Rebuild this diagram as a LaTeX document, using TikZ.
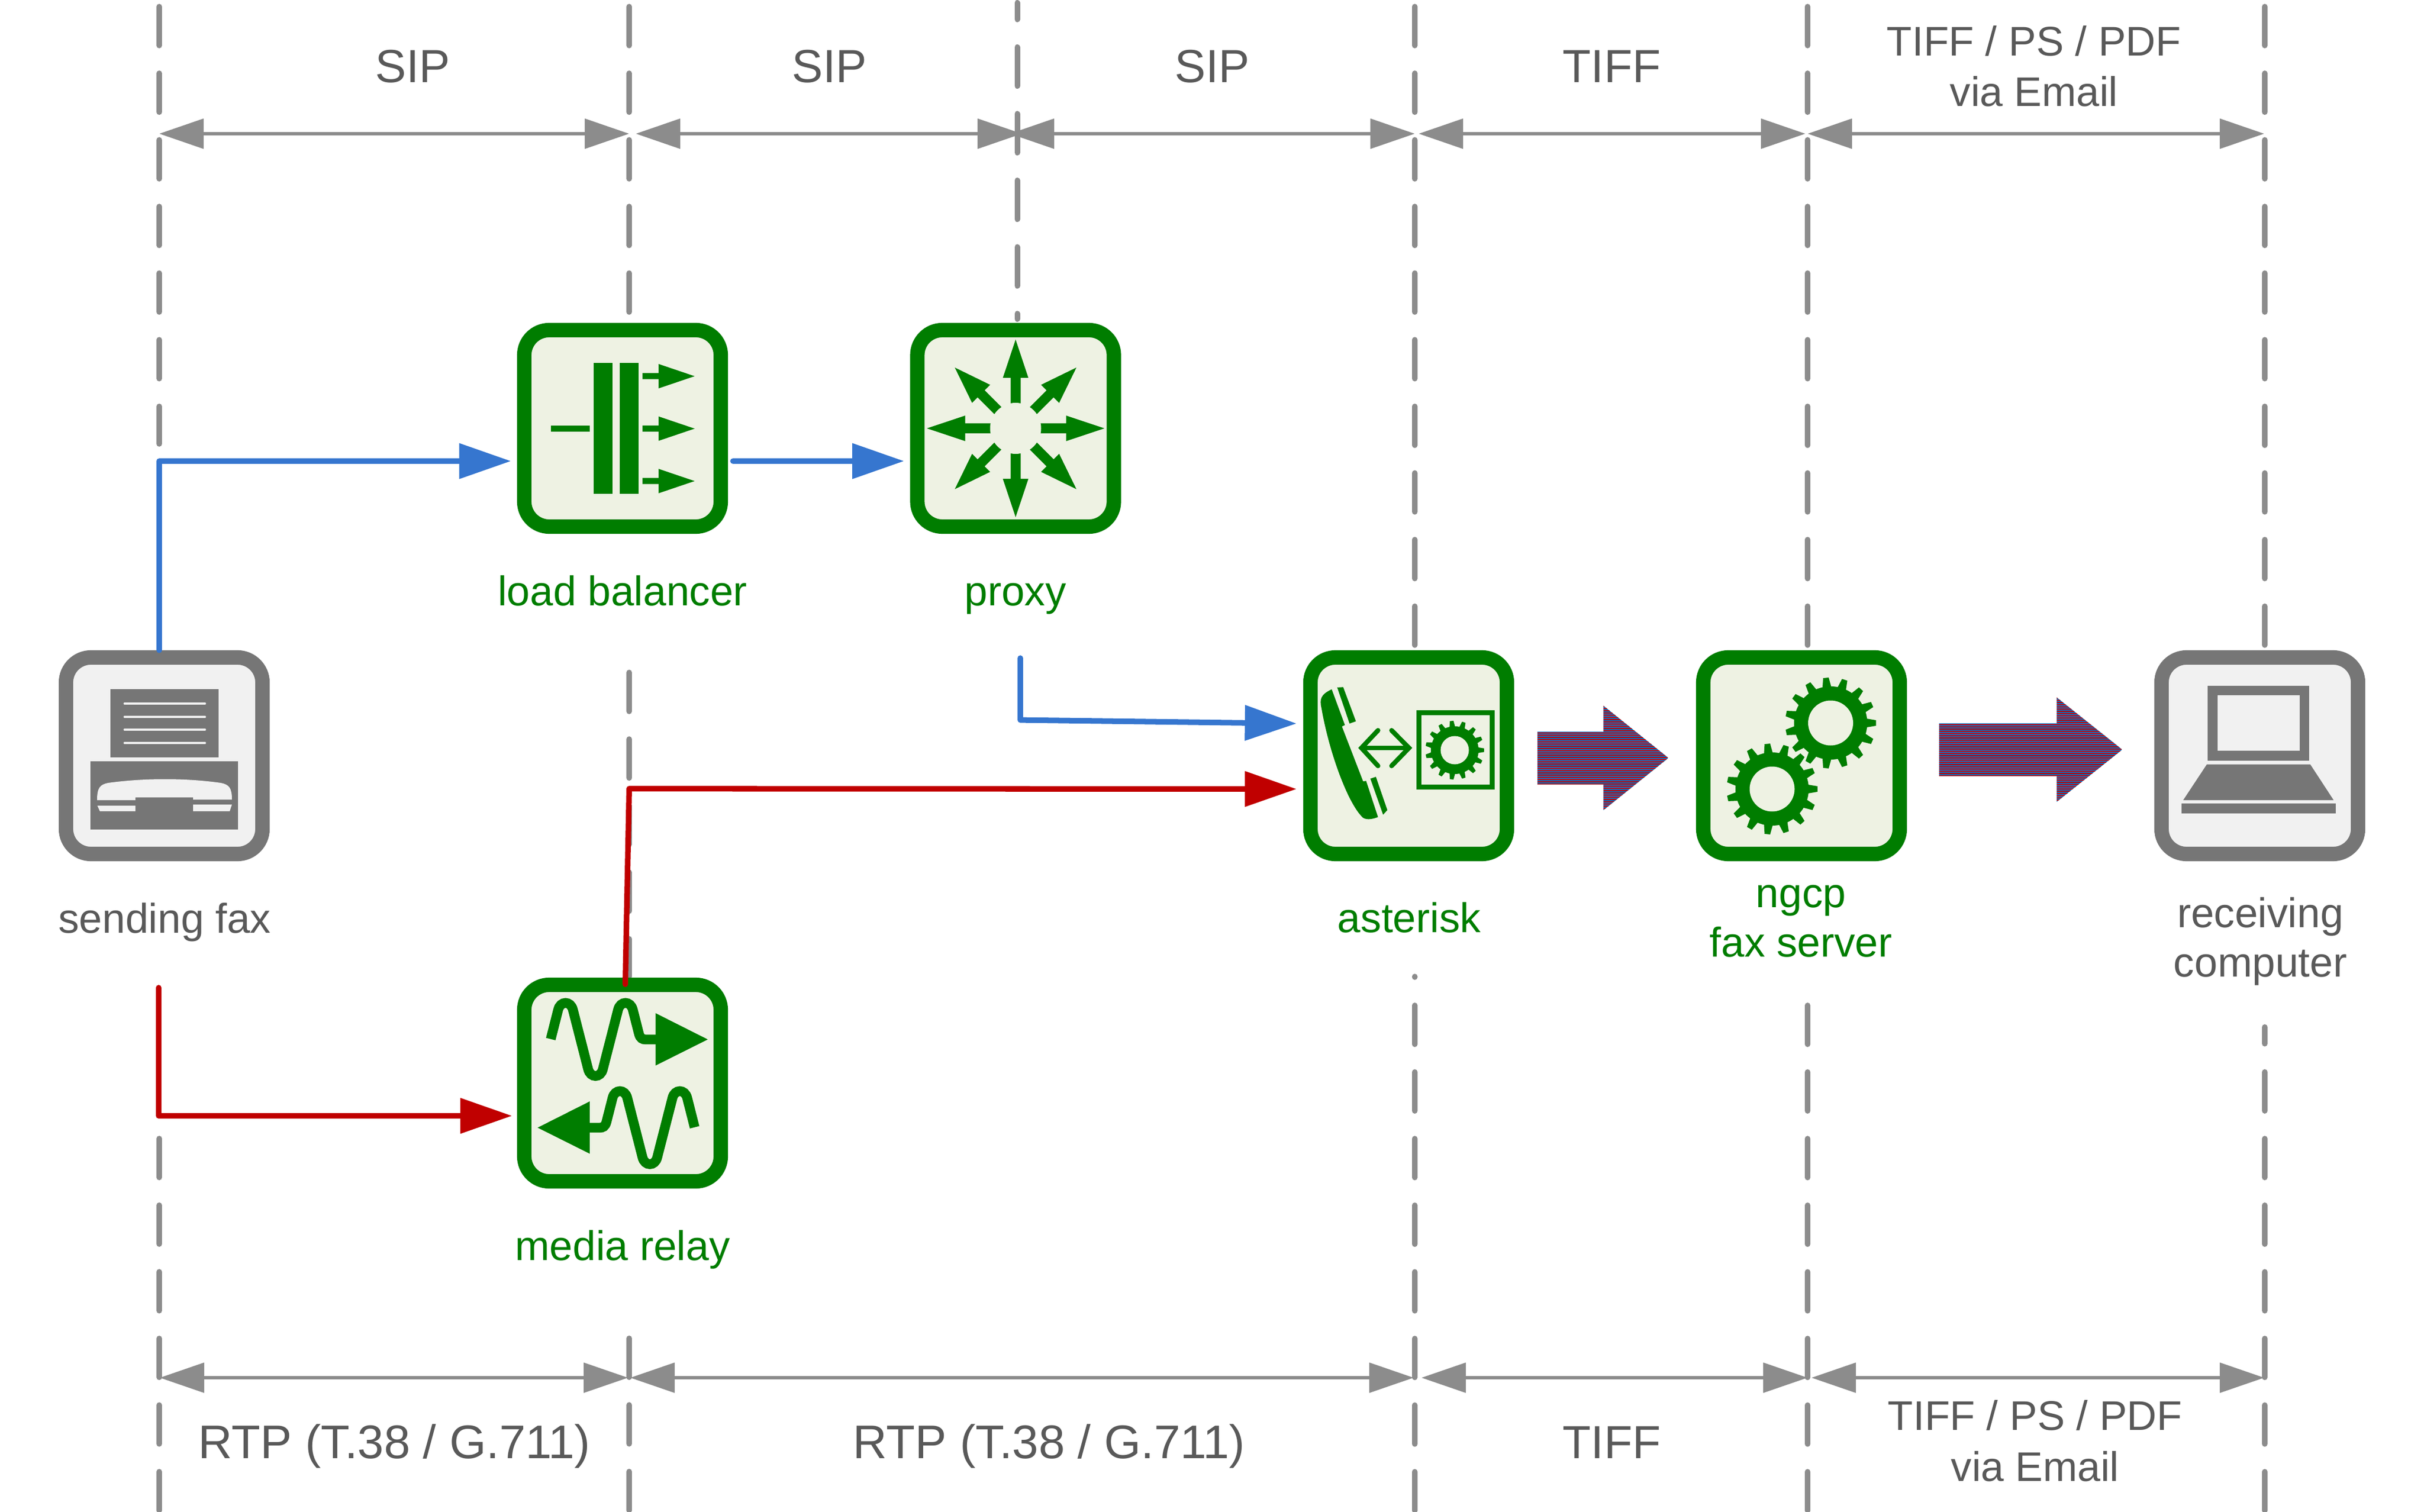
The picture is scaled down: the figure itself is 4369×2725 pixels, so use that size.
\documentclass[tikz,border=0pt]{standalone}
\usepackage{fontspec}
\setmainfont{Liberation Sans}
\usetikzlibrary{arrows.meta,calc}
\definecolor{boxgreen}{HTML}{007D00}
\definecolor{boxfill}{HTML}{EEF2E3}
\definecolor{hostgrey}{HTML}{767676}
\definecolor{hostfill}{HTML}{F1F1F1}
\definecolor{guidegrey}{HTML}{8C8C8C}
\definecolor{textgrey}{HTML}{595959}
\definecolor{sigblue}{HTML}{3676CF}
\definecolor{rtpred}{HTML}{C00000}
\definecolor{stripeblue}{HTML}{0070C0}
\tikzset{
  netbox/.style={rectangle,rounded corners=0.45cm,minimum size=3.54cm,line width=0.26cm,draw=boxgreen,fill=boxfill,inner sep=0pt},
  hostbox/.style={netbox,draw=hostgrey,fill=hostfill},
  guideline/.style={draw=guidegrey,line width=2.85pt,line cap=round,dash pattern=on 0.7cm off 0.5cm},
  guidestub/.style={draw=guidegrey,line width=2.85pt,line cap=round},
  dimline/.style={draw=guidegrey,line width=1.9pt,{Triangle[length=22.8pt,width=15.1pt]}-{Triangle[length=22.8pt,width=15.1pt]}},
  sigline/.style={draw=sigblue,line width=2.85pt,line cap=round,line join=round,-{Triangle[length=26.5pt,width=17.6pt]}},
  rtpline/.style={sigline,draw=rtpred},
  proto/.style={font=\fontsize{23.8}{25.9}\selectfont,text=textgrey,inner sep=0pt,anchor=base,align=center},
  rtplabel/.style={proto,font=\fontsize{24.2}{25.9}\selectfont},
  maillabel/.style={proto,font=\fontsize{21.2}{25.9}\selectfont},
  hostlabel/.style={font=\fontsize{21.3}{25.2}\selectfont,text=textgrey,inner sep=0pt,anchor=base,align=center},
  netlabel/.style={hostlabel,text=boxgreen}
}
% gear: x, y, outer radius, root radius, hole radius
\newcommand{\gearicon}[5]{
  \begin{scope}[shift={(#1,#2)}]
    \fill[boxgreen] (0,0) circle[radius=#4];
    \foreach \ang in {0,24,...,336}
      \fill[boxgreen] (\ang-7:#4-1) -- (\ang-3.5:#3) -- (\ang+3.5:#3) -- (\ang+7:#4-1) -- cycle;
    \fill[boxfill] (0,0) circle[radius=#5];
  \end{scope}
}
% fat arrow: tail x, head base x, tip x, middle y
\newcommand{\stripedarrow}[4]{
  \begin{scope}
    \clip (#1,#4-47.5) -- (#2,#4-47.5) -- (#2,#4-94) -- (#3,#4) -- (#2,#4+94) -- (#2,#4+47.5) -- (#1,#4+47.5) -- cycle;
    \fill[stripeblue] (#1,#4-94) rectangle (#3,#4+94);
    \foreach \k in {0,...,46}
      \fill[rtpred] (#1,#4-94+\k*4) rectangle (#3,#4-94+\k*4+2);
  \end{scope}
}
% one wave of the relay icon, zoomed coordinates
\newcommand{\relaywave}{
  \draw[boxgreen,line width=5pt] (278,398) -- (318,240) .. controls (330,190) and (386,190) .. (398,240) -- (480,560) .. controls (492,610) and (548,610) .. (560,560) -- (642,240) .. controls (654,190) and (710,190) .. (722,240) -- (755,370) .. controls (762,395) and (775,400) .. (790,400) -- (846,400);
  \fill[boxgreen] (845,258) -- (1127,400) -- (845,541) -- cycle;
}
\begin{document}
\begin{tikzpicture}[x=0.01cm,y=-0.01cm]
\useasboundingbox (0,0) rectangle (4369,2725);
%guide lines
\foreach \xpos/\ya/\yb in {287/12/800,287/2052/2725,1134/12/565,1134/1212/1405,1134/1452/1650,1134/1692/1760,1134/2412/2725,1833.5/85/575,2550/12/1165,2550/1812/2725,3258/12/1165,3258/1812/2725,4082/12/1165,4082/1932/2725}
  \draw[guideline] (\xpos,\ya) -- (\xpos,\yb);
\draw[guidestub] (1833.5,5) -- (1833.5,35);
\draw[guidestub] (2550,1760) -- (2550,1761);
\draw[guidestub] (4082,1851) -- (4082,1881);
%upper and lower spans
\coordinate (ta) at (287,241);
\coordinate (tb) at (1134,241);
\coordinate (tc) at (1146,241);
\coordinate (td) at (1842,241);
\coordinate (te) at (1820,241);
\coordinate (tf) at (2550,241);
\coordinate (tg) at (2557,241);
\coordinate (th) at (3254,241);
\coordinate (ti) at (3258,241);
\coordinate (tj) at (4081,241);
\coordinate (ba) at (288,2483);
\coordinate (bb) at (1132,2483);
\coordinate (bc) at (1136,2483);
\coordinate (bd) at (2548,2483);
\coordinate (be) at (2562,2483);
\coordinate (bf) at (3258,2483);
\coordinate (bg) at (3265,2483);
\coordinate (bh) at (4081,2483);
\draw[dimline] (ta) -- (tb);
\draw[dimline] (tc) -- (td);
\draw[dimline] (te) -- (tf);
\draw[dimline] (tg) -- (th);
\draw[dimline] (ti) -- (tj);
\draw[dimline] (ba) -- (bb);
\draw[dimline] (bc) -- (bd);
\draw[dimline] (be) -- (bf);
\draw[dimline] (bg) -- (bh);
\node[proto] (siptop) at (744,149) {SIP};
\node[proto] (sipmid) at (1495,149) {SIP};
\node[proto] (sipend) at (2185,149) {SIP};
\node[proto] (tifftop) at (2905,149) {TIFF};
\node[maillabel] (mailtop) at (3666,192) {TIFF / PS / PDF\\via Email};
\node[rtplabel] (rtpleft) at (711,2628) {RTP (T.38 / G.711)};
\node[rtplabel] (rtpright) at (1891,2628) {RTP (T.38 / G.711)};
\node[proto] (tiffbot) at (2905,2628) {TIFF};
\node[maillabel] (mailbot) at (3668,2669) {TIFF / PS / PDF\\via Email};
%boxes
\node[hostbox] (fax) at (296,1362) {};
\node[netbox] (lb) at (1122,772) {};
\node[netbox] (proxy) at (1830.5,772) {};
\node[netbox] (asterisk) at (2539,1362) {};
\node[netbox] (ngcp) at (3247,1362) {};
\node[hostbox] (pc) at (4073,1362) {};
\node[netbox] (relay) at (1122,1952) {};
\node[hostlabel] (faxlabel) at (297,1681) {sending fax};
\node[netlabel] (lblabel) at (1122,1091) {load balancer};
\node[netlabel] (proxylabel) at (1830,1091) {proxy};
\node[netlabel] (asterisklabel) at (2540,1680) {asterisk};
\node[netlabel] (ngcplabel) at (3246,1724) {ngcp\\fax server};
\node[hostlabel] (pclabel) at (4074,1760) {receiving\\computer};
\node[netlabel] (relaylabel) at (1122,2271.5) {media relay};
%fax
\fill[hostgrey] (199,1242) rectangle (393.5,1365);
\foreach \ypos in {1268,1292,1315,1339}
  \draw[hostfill,line width=1.4pt,line cap=round] (225,\ypos) -- (369,\ypos);
\fill[hostgrey] (163,1372) rectangle (429,1495);
\fill[hostfill] (175,1442) .. controls (175,1420) and (180,1414) .. (195,1411) .. controls (260,1402) and (335,1402) .. (398,1411) .. controls (413,1414) and (418,1420) .. (418,1441) -- (348,1441) -- (348,1437) -- (244,1437) -- (244,1442) -- cycle;
\fill[hostfill] (175.5,1452) -- (244,1452) -- (244,1462) -- (180,1462) -- cycle;
\fill[hostfill] (348,1450) -- (418,1450) -- (414,1462) -- (348,1462) -- cycle;
%load balancer
\fill[boxgreen] (1070,654) rectangle (1104,890);
\fill[boxgreen] (1117,654) rectangle (1151,890);
\fill[boxgreen] (992.5,767) rectangle (1063,778);
\foreach \ypos in {678,772.5,867}
  \fill[boxgreen] (1158,\ypos-5.5) -- (1187,\ypos-5.5) -- (1187,\ypos-22) -- (1252,\ypos) -- (1187,\ypos+22) -- (1187,\ypos+5.5) -- (1158,\ypos+5.5) -- cycle;
%proxy
\foreach \ang in {0,90,180,270}
  \fill[boxgreen,shift={(1830.5,772)},rotate=\ang] (30,-9) -- (91,-9) -- (91,-23) -- (160,0) -- (91,23) -- (91,9) -- (30,9) -- cycle;
\foreach \ang in {45,135,225,315}
  \fill[boxgreen,shift={(1830.5,772)},rotate=\ang] (30,-9) -- (88,-9) -- (88,-23) -- (155,0) -- (88,23) -- (88,9) -- (30,9) -- cycle;
\fill[boxfill] (1830.5,772) circle[radius=46];
%relay
\begin{scope}[shift={(900,1740)},scale=0.3333]
  \relaywave
  \begin{scope}[shift={(1334,477)},xscale=-1]
    \relaywave
  \end{scope}
\end{scope}
%asterisk
\begin{scope}[shift={(2300,1150)},xscale=0.7653,yscale=0.3333]
  \fill[boxgreen] (131,277) .. controls (105,305) and (102,330) .. (107,380) .. controls (125,620) and (170,900) .. (205,972) .. controls (215,985) and (228,978) .. (240,968) -- (212,772) -- (205,775) -- (155,478) -- (162,470) -- cycle;
  \fill[boxgreen] (144,267) -- (158,265) -- (188,450) -- (173,462) -- cycle;
  \fill[boxgreen] (222,760) -- (235,750) -- (262,930) -- (252,955) -- cycle;
  \draw[boxgreen,line width=2.4pt,line cap=round] (240,499) -- (201,594) -- (240,691);
  \draw[boxgreen,line width=2.4pt,line cap=round] (272,499) -- (313,594) -- (272,691);
  \draw[boxgreen,line width=2.5pt] (205,594) -- (310,594);
  \draw[boxgreen,line width=2.42pt] (336.5,404) rectangle (509,805.5);
\end{scope}
\gearicon{2622}{1352}{53}{43}{25.5}
%ngcp
\gearicon{3299.5}{1303}{82}{66}{40.5}
\gearicon{3194}{1422}{82}{66}{40.5}
%computer
\fill[hostgrey] (3979,1235.7) rectangle (4162,1371);
\fill[hostfill] (3997,1253) rectangle (4144.6,1353);
\fill[hostgrey] (3977.5,1377.7) -- (4164,1377.7) -- (4206,1442) -- (3935,1442) -- cycle;
\fill[hostgrey] (3932,1448) rectangle (4210,1466);
%fat arrows
\stripedarrow{2771}{2890}{3007}{1366}
\stripedarrow{3495}{3707}{3825}{1351}
%signalling and media paths
\draw[sigline] ($(fax.north)+(-9,0)$) |- ($(lb.west)+(-11,59)$);
\draw[sigline] ($(lb.east)+(9,59)$) -- ($(proxy.west)+(-11,59)$);
\draw[sigline] ($(proxy.south)+(8.5,224)$) -- ($(proxy.south)+(8.5,335.5)$) -- ($(asterisk.west)+(-12,-58)$);
\draw[rtpline] ($(fax.south)+(-10,228)$) |- ($(relay.west)+(-9,59)$);
\draw[rtpline] ($(relay.north)+(5,12)$) -- ($(relay.north)+(12,-340.5)$) -- ($(asterisk.west)+(-12,60)$);
\end{tikzpicture}
\end{document}
